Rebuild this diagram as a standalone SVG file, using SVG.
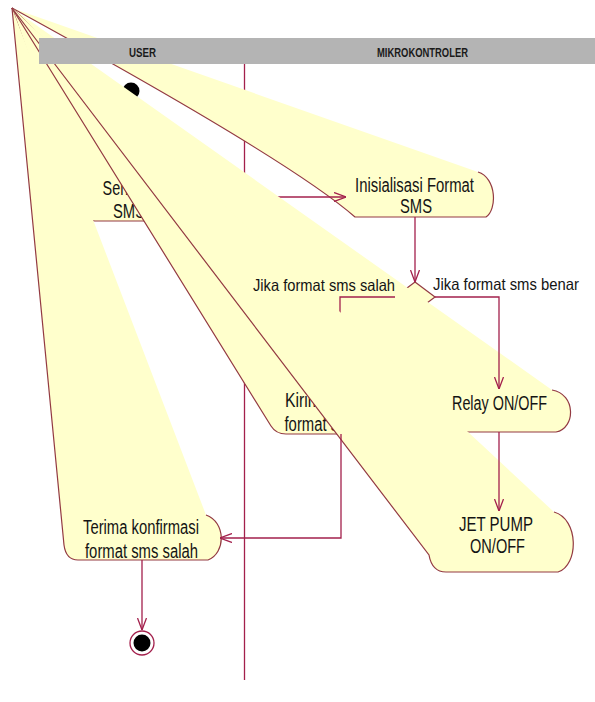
<svg xmlns="http://www.w3.org/2000/svg" width="595" height="702" viewBox="0 0 595 702">
<style>
.fill{fill:#ffffcc;stroke:none}
.edge{fill:none;stroke:#933a42;stroke-width:1.2}
.conn{fill:none;stroke:#a3204c;stroke-width:1.3}
.t{font-family:"Liberation Sans",Arial,sans-serif;font-size:20px;fill:#141414}
.lbl{font-family:"Liberation Sans",Arial,sans-serif;font-size:16.5px;fill:#141414}
.hdr{font-family:"Liberation Sans",Arial,sans-serif;font-size:12px;font-weight:bold;fill:#1a1a1a}
</style>
<defs>
<marker id="arr" viewBox="0 0 12 10" refX="12" refY="5" markerWidth="12" markerHeight="10" markerUnits="userSpaceOnUse" orient="auto"><path d="M0,0.5 L12,5 L0,9.5" fill="none" stroke="#a3204c" stroke-width="1.3"/></marker>
<clipPath id="clipRelay"><polygon points="0,0 600,0 600,424 12,8 0,8"/></clipPath>
<clipPath id="clipJet"><polygon points="0,0 600,0 600,553 12,8 0,8"/></clipPath>
</defs>
<rect width="595" height="702" fill="#ffffff"/>
<g id="lane-divider"><line x1="244.5" y1="64" x2="244.5" y2="680" stroke="#a3204c" stroke-width="1.3"/></g>
<g id="node-send-sms">
<path class="fill" d="M12,8 L160,176 C178,180 178,216 162,221 L95,221 Q84,221 82,210 Z"/>
<path class="edge" d="M160,176 C178,180 178,216 162,221 L95,221 Q84,221 82,210 L12,8"/>
<text class="t" x="129" y="195" text-anchor="middle" textLength="53" lengthAdjust="spacingAndGlyphs">Sending</text>
<text class="t" x="129" y="218" text-anchor="middle" textLength="32" lengthAdjust="spacingAndGlyphs">SMS</text>
</g>
<g id="node-terima">
<path class="fill" d="M12,8 L206,515 C226,522 226,553 208,560 L78,560 Q66,560 64,545 Z"/>
<path class="edge" d="M206,515 C226,522 226,553 208,560 L78,560 Q66,560 64,545 L12,8"/>
<text class="t" x="141" y="534" text-anchor="middle" textLength="116" lengthAdjust="spacingAndGlyphs">Terima konfirmasi</text>
<text class="t" x="141.5" y="558" text-anchor="middle" textLength="113" lengthAdjust="spacingAndGlyphs">format sms salah</text>
</g>
<g id="node-start"><circle cx="131" cy="91" r="8.5" fill="#000000"/></g>
<g id="node-inisialisasi">
<path class="fill" d="M12,8 L478,172 C497,178 497,210 486,217 L355,217 Q290,160 12,8 Z"/>
<path class="edge" d="M478,172 C497,178 497,210 486,217 L355,217 Q290,160 12,8"/>
<text class="t" x="414.5" y="192" text-anchor="middle" textLength="119" lengthAdjust="spacingAndGlyphs">Inisialisasi Format</text>
<text class="t" x="416" y="213" text-anchor="middle" textLength="32" lengthAdjust="spacingAndGlyphs">SMS</text>
</g>
<g id="node-decision"><polygon points="415,282 435,297 415,312 395,297" fill="#ffffcc" stroke="#933a42" stroke-width="1.2"/></g>
<g id="node-relay">
<path class="fill" d="M12,8 L552,390 C576,394 576,428 556,432 L445,432 Q432,432 428,420 Z"/>
<path class="edge" d="M552,390 C576,394 576,428 556,432 L445,432 Q432,432 428,420 L12,8"/>
<text class="t" x="499.5" y="410" text-anchor="middle" textLength="95" lengthAdjust="spacingAndGlyphs">Relay ON/OFF</text>
</g>
<g id="node-kirim">
<path class="fill" d="M12,8 L398,385 C418,390 418,428 400,434 L286,434 Q276,434 271,426 Z"/>
<path class="edge" d="M398,385 C418,390 418,428 400,434 L286,434 Q276,434 271,426 L12,8"/>
<text class="t" x="341" y="407" text-anchor="middle" textLength="112" lengthAdjust="spacingAndGlyphs">Kirim konfirmasi</text>
<text class="t" x="341" y="431" text-anchor="middle" textLength="113" lengthAdjust="spacingAndGlyphs">format sms salah</text>
</g>
<g id="node-jetpump">
<path class="fill" d="M12,8 L554,512 C579,519 579,565 558,572 L446,572 Q432,572 429,555 Z"/>
<path class="edge" d="M554,512 C579,519 579,565 558,572 L446,572 Q432,572 429,555 L12,8"/>
<text class="t" x="496" y="531" text-anchor="middle" textLength="74" lengthAdjust="spacingAndGlyphs">JET PUMP</text>
<text class="t" x="497.5" y="553" text-anchor="middle" textLength="55" lengthAdjust="spacingAndGlyphs">ON/OFF</text>
</g>
<g id="connectors">
<path class="conn" d="M175,197 L346,197" marker-end="url(#arr)" clip-path="url(#clipRelay)"/>
<path class="conn" d="M415,217 L415,282" marker-end="url(#arr)"/>
<path class="conn" d="M395,297 L340,297 L340,385" marker-end="url(#arr)" clip-path="url(#clipJet)"/>
<path class="conn" d="M435,297 L499,297 L499,389" marker-end="url(#arr)"/>
<path class="conn" d="M499,432 L499,511" marker-end="url(#arr)"/>
<path class="conn" d="M341,434 L341,538 L220,538" marker-end="url(#arr)"/>
<path class="conn" d="M142,560 L142,630" marker-end="url(#arr)"/>
</g>
<g id="node-end">
<circle cx="142" cy="643" r="12" fill="#ffffff" stroke="#a3204c" stroke-width="1.3"/>
<circle cx="142" cy="643" r="8.5" fill="#000000"/>
</g>
<g id="lane-header">
<rect x="39" y="38" width="556" height="26" fill="#b4b4b4"/>
<text class="hdr" x="142.5" y="57" text-anchor="middle" textLength="27" lengthAdjust="spacingAndGlyphs">USER</text>
<text class="hdr" x="422.5" y="57" text-anchor="middle" textLength="91" lengthAdjust="spacingAndGlyphs">MIKROKONTROLER</text>
</g>
<g id="connector-labels">
<text class="lbl" x="324" y="291" text-anchor="middle" textLength="142" lengthAdjust="spacingAndGlyphs">Jika format sms salah</text>
<text class="lbl" x="506" y="290" text-anchor="middle" textLength="146" lengthAdjust="spacingAndGlyphs">Jika format sms benar</text>
</g>
</svg>
